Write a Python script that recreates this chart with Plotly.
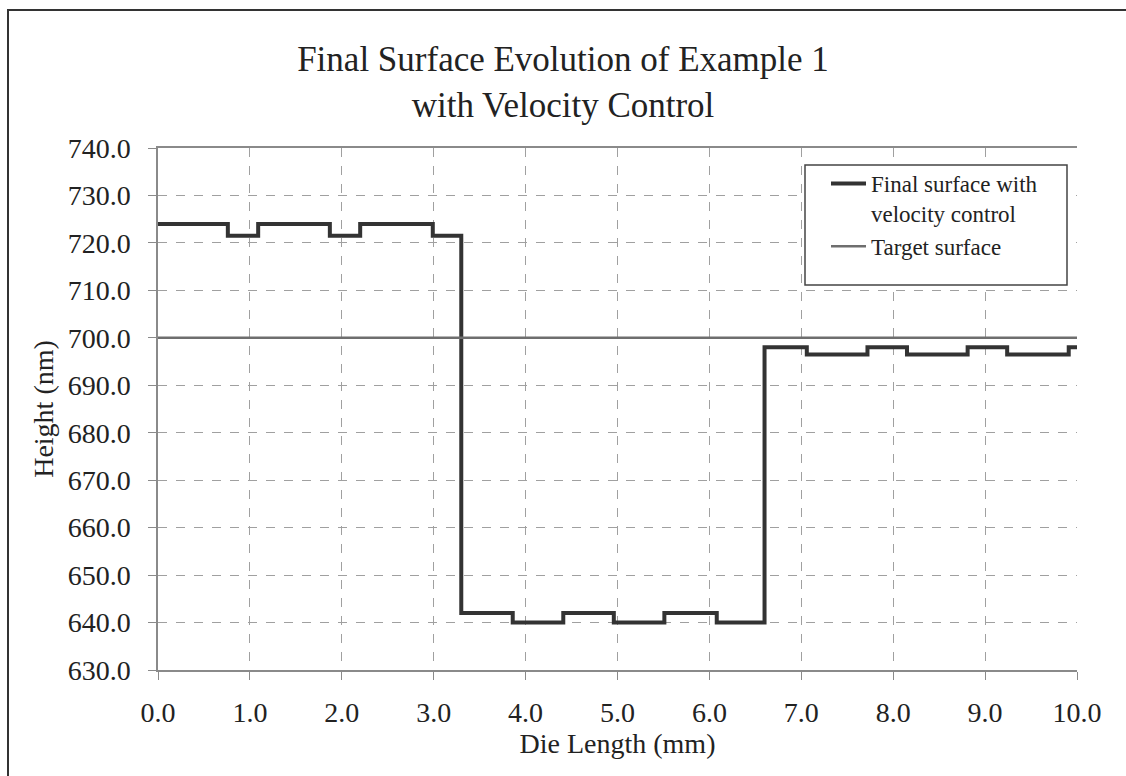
import plotly.graph_objects as go

# Step edges (mm) and heights (nm) of the final surface
x_edges = [0.0, 0.76, 1.09, 1.87, 2.20, 2.99, 3.30, 3.86, 4.41, 4.96, 5.51, 6.08,
           6.60, 7.06, 7.72, 8.15, 8.81, 9.24, 9.91, 10.0]
heights = [724.0, 721.5, 724.0, 721.5, 724.0, 721.5, 642.0, 640.0, 642.0, 640.0, 642.0, 640.0,
           698.0, 696.5, 698.0, 696.5, 698.0, 696.5, 698.0, 698.0]
target_x = [0.0, 10.0]
target_y = [700.0, 700.0]
x_ticks = [0, 1, 2, 3, 4, 5, 6, 7, 8, 9, 10]
y_ticks = [630, 640, 650, 660, 670, 680, 690, 700, 710, 720, 730, 740]

FONT = "Liberation Serif"
W, H = 1126, 776
L, R, T, B = 158, 49, 148, 106
pw, ph = W - L - R, H - T - B

def px2paper(x, y):
    return (x - L) / pw, (H - B - y) / ph

fig = go.Figure()
fig.add_trace(go.Scatter(x=x_edges, y=heights, mode="lines", line_shape="hv",
                         line=dict(color="#333333", width=4),
                         name="Final surface with<br>velocity control"))
fig.add_trace(go.Scatter(x=target_x, y=target_y, mode="lines",
                         line=dict(color="#6e6e6e", width=2.5),
                         name="Target surface"))

# outer frame (cropped at right/bottom)
fx0, fy0 = px2paper(8, 10)
fx1, fy1 = px2paper(1140, 790)
# legend box
lx0, ly0 = px2paper(805, 165)
lx1, ly1 = px2paper(1067, 285)
fig.update_layout(
    width=W, height=H,
    margin=dict(l=L, r=R, t=T, b=B),
    paper_bgcolor="white", plot_bgcolor="white",
    font=dict(family=FONT, color="#222222"),
    title=dict(text="Final Surface Evolution of Example 1<br>with Velocity Control",
               x=0.5, xref="container", y=1 - 71 / H, yref="container",
               xanchor="center", yanchor="top",
               font=dict(family=FONT, size=35, color="#222222")),
    showlegend=True,
    legend=dict(x=(826 - L) / pw, y=(H - B - 162) / ph, xanchor="left", yanchor="top",
                bgcolor="rgba(0,0,0,0)", borderwidth=0, valign="top",
                itemwidth=35,
                font=dict(family=FONT, size=23, color="#222222"),
                tracegroupgap=0),
    shapes=[
        dict(type="rect", xref="paper", yref="paper", x0=fx0, y0=fy1, x1=fx1, y1=fy0,
             line=dict(color="#333333", width=2), fillcolor="rgba(0,0,0,0)", layer="above"),
        dict(type="rect", xref="paper", yref="paper", x0=lx0, y0=ly1, x1=lx1, y1=ly0,
             line=dict(color="#444444", width=1.5), fillcolor="white", layer="above"),
    ],
)
fig.update_xaxes(range=[0, 10], tickvals=x_ticks, ticktext=[f"{v:.1f}" for v in x_ticks],
                 showgrid=True, gridcolor="#a0a0a0", griddash="dash", gridwidth=1,
                 showline=True, linecolor="#8a8a8a", linewidth=1.5, mirror=True,
                 ticks="outside", ticklen=8, tickcolor="#8a8a8a",
                 tickfont=dict(family=FONT, size=28, color="#222222"),
                 ticklabelstandoff=9, zeroline=False,
                 title=dict(text="Die Length (mm)", font=dict(family=FONT, size=28, color="#222222"),
                            standoff=4))
fig.update_yaxes(range=[630, 740], tickvals=y_ticks, ticktext=[f"{v:.1f}" for v in y_ticks],
                 showgrid=True, gridcolor="#a0a0a0", griddash="dash", gridwidth=1,
                 showline=True, linecolor="#8a8a8a", linewidth=1.5,
                 ticks="outside", ticklen=8, tickcolor="#8a8a8a",
                 tickfont=dict(family=FONT, size=28, color="#222222"),
                 ticklabelstandoff=12, zeroline=False,
                 title=dict(text="Height (nm)", font=dict(family=FONT, size=28, color="#222222"),
                            standoff=6))

fig.write_html("out.html")
